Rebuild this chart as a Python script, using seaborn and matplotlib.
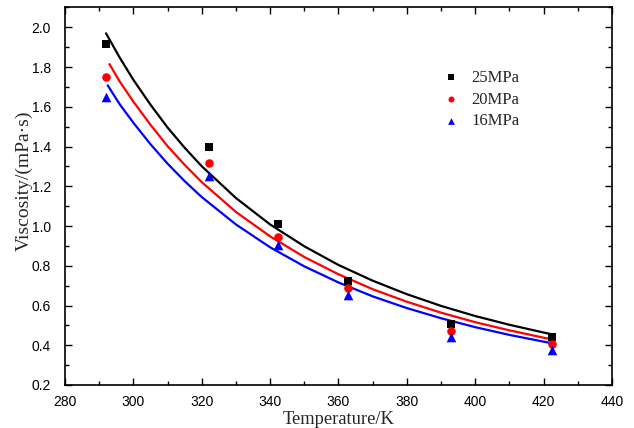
import matplotlib
matplotlib.use('Agg')
import matplotlib.pyplot as plt
import seaborn as sns
from matplotlib.ticker import MultipleLocator

# measured points (temperature in K, viscosity in mPa·s)
temp = [292.0, 322.1, 342.2, 362.7, 392.9, 422.5]
visc_25 = [1.915, 1.40, 1.012, 0.725, 0.505, 0.44]
visc_20 = [1.75, 1.315, 0.945, 0.69, 0.47, 0.405]
visc_16 = [1.65, 1.25, 0.905, 0.655, 0.44, 0.375]

# model curves
curve_t_25 = [292, 296, 300, 305, 310, 315, 320, 330, 340, 350, 360, 370, 380, 390, 400, 410, 420, 422.5]
curve_25 = [1.970, 1.848, 1.736, 1.611, 1.496, 1.394, 1.301, 1.141, 1.008, 0.898, 0.804, 0.725, 0.657,
            0.598, 0.547, 0.503, 0.464, 0.455]
curve_t_20 = [293, 296, 300, 305, 310, 315, 320, 330, 340, 350, 360, 370, 380, 390, 400, 410, 420, 422.5]
curve_20 = [1.815, 1.728, 1.626, 1.510, 1.402, 1.308, 1.221, 1.071, 0.948, 0.844, 0.757, 0.682, 0.619,
            0.564, 0.516, 0.475, 0.438, 0.430]
curve_t_16 = [292.5, 296, 300, 305, 310, 315, 320, 330, 340, 350, 360, 370, 380, 390, 400, 410, 420, 422.5]
curve_16 = [1.708, 1.613, 1.520, 1.412, 1.314, 1.226, 1.146, 1.008, 0.893, 0.797, 0.716, 0.646, 0.587,
            0.536, 0.491, 0.452, 0.418, 0.410]

labels = ['25MPa', '20MPa', '16MPa']
colors = ['black', 'red', 'blue']
markers = ['s', 'o', '^']
sizes = [30, 38, 48]

sns.set_style('ticks')
plt.rcParams['font.family'] = ['Liberation Sans', 'DejaVu Sans']

fig = plt.figure(figsize=(6.34, 4.28), dpi=100)
ax = fig.add_axes([0.1025, 0.1005, 0.8628, 0.882])

for ct, cv, c in zip([curve_t_25, curve_t_20, curve_t_16], [curve_25, curve_20, curve_16], colors):
    sns.lineplot(x=ct, y=cv, color=c, linewidth=1.6, ax=ax, legend=False)

for v, lab, c, m, s in zip([visc_25, visc_20, visc_16], labels, colors, markers, sizes):
    sns.scatterplot(x=temp, y=v, marker=m, color=c, s=s, linewidth=0, label=lab, ax=ax, zorder=3)

ax.set_xlim(280, 440)
ax.set_ylim(0.2, 2.1)
ax.xaxis.set_major_locator(MultipleLocator(20))
ax.xaxis.set_minor_locator(MultipleLocator(10))
ax.yaxis.set_major_locator(MultipleLocator(0.2))
ax.yaxis.set_minor_locator(MultipleLocator(0.1))
ax.yaxis.set_major_formatter(matplotlib.ticker.FormatStrFormatter('%.1f'))

ax.tick_params(which='both', direction='in', top=True, right=True, width=1, color='black')
ax.tick_params(which='major', length=5, labelsize=10, labelcolor='black')
ax.tick_params(which='minor', length=3)
ax.tick_params(axis='x', pad=7)
ax.tick_params(axis='y', pad=10)
for sp in ax.spines.values():
    sp.set_linewidth(1.2)
    sp.set_color('black')

ax.set_xlabel('Temperature/K', fontsize=13.3, family='Liberation Serif')
ax.set_ylabel('Viscosity/(mPa·s)', fontsize=14, family='Liberation Serif')
ax.xaxis.set_label_coords(0.5, -0.07)
ax.yaxis.set_label_coords(-0.058, 0.542)

ax.legend(loc='upper left', bbox_to_anchor=(0.66, 0.875), frameon=False,
          prop={'family': 'Liberation Serif', 'size': 12}, markerscale=0.7,
          handletextpad=0.6, labelspacing=0.35, handlelength=1.2)

fig.savefig('out.png', dpi=100)
